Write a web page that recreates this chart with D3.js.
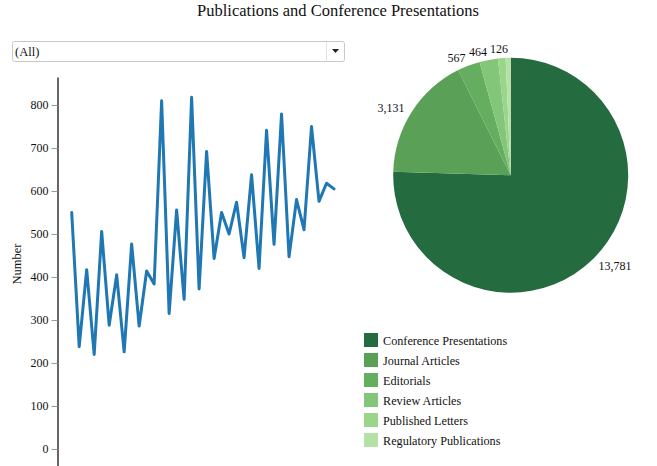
<!DOCTYPE html>
<html><head><meta charset="utf-8">
<script src="https://cdn.jsdelivr.net/npm/d3@7/dist/d3.min.js"></script>
<style>
body{margin:0;background:#fff}
svg{display:block}
text{font-family:"Liberation Serif","Times New Roman",serif;fill:#111}
</style>
</head><body>
<svg id="chart" width="657" height="466"></svg>
<script>
// ---- data ----
const titleText = "Publications and Conference Presentations";
const filterLabel = "(All)";
const yLabel = "Number";
const counts = [550,238,417,220,506,288,405,226,477,286,414,384,810,315,556,348,818,372,
                692,443,550,500,574,445,638,420,741,476,779,447,580,510,750,576,618,605];
const yTicks = [0,100,200,300,400,500,600,700,800];
const categories = ["Conference Presentations","Journal Articles","Editorials","Review Articles","Published Letters","Regulatory Publications"];
const totals = [13781,3131,567,464,190,126];
const colors = ["#246b3f","#5aa056","#65ad5f","#84c679","#99d58b","#b5e1a6"];

const svg = d3.select("#chart");

// title
svg.append("text").attr("x",338).attr("y",16).attr("text-anchor","middle")
  .style("font-size","16.5px").text(titleText);

// dropdown
const dd = svg.append("g");
dd.append("rect").attr("x",12.5).attr("y",41.5).attr("width",332).attr("height",20)
  .attr("rx",2).attr("fill","#fff").attr("stroke","#c8c8c8");
dd.append("line").attr("x1",326.5).attr("x2",326.5).attr("y1",42).attr("y2",61).attr("stroke","#e2e2e2");
dd.append("path").attr("d","M332,49 L339,49 L335.5,53 Z").attr("fill","#222");
dd.append("text").attr("x",15).attr("y",55.5).style("font-size","12.5px").text(filterLabel);

// line chart
const x = d3.scaleLinear().domain([0,counts.length-1]).range([71.7,334]);
const y = d3.scaleLinear().domain([-45,865]).range([468.35,77.05]);

const yAxis = d3.axisLeft(y).tickValues(yTicks).tickSize(6).tickPadding(3).tickSizeOuter(0);
const ga = svg.append("g").attr("transform","translate(57.5,0)").call(yAxis);
ga.select(".domain").attr("stroke","#000").attr("stroke-width",1.2);
ga.selectAll(".tick line").attr("stroke","#999");
ga.selectAll(".tick text").style("font-family","'Liberation Serif',serif").style("font-size","12px").attr("fill","#111");

svg.append("text").attr("transform","translate(21,264) rotate(-90)").attr("text-anchor","middle")
  .style("font-size","12.5px").text(yLabel);

const line = d3.line().x((d,i)=>x(i)).y(d=>y(d));
svg.append("path").datum(counts).attr("d",line).attr("fill","none")
  .attr("stroke","#1f77b4").attr("stroke-width",3).attr("stroke-linejoin","round").attr("stroke-linecap","round");

// pie
const cx = 510.7, cy = 175.2, r = 117.5;
const pie = d3.pie().sort(null).value(d=>d)(totals);
const arc = d3.arc().innerRadius(0).outerRadius(r);
const labelArc = d3.arc().innerRadius(126).outerRadius(126);
const gp = svg.append("g").attr("transform",`translate(${cx},${cy})`);
gp.selectAll("path.slice").data(pie).join("path").attr("class","slice")
  .attr("d",arc).attr("fill",(d,i)=>colors[i]);

const fmt = d3.format(",");
const shown = [];
gp.selectAll("text.lbl").data(pie).join("text").attr("class","lbl")
  .attr("x",d=>labelArc.centroid(d)[0]).attr("y",d=>labelArc.centroid(d)[1])
  .attr("dy","0.35em")
  .attr("text-anchor",d=>((d.startAngle+d.endAngle)/2 > Math.PI ? "end" : "start"))
  .style("font-size","12px")
  .text(d=>fmt(d.data))
  .each(function(){
    const b = this.getBBox();
    const hit = shown.some(s=>!(b.x>=s.x+s.width||b.x+b.width<=s.x||b.y>=s.y+s.height||b.y+b.height<=s.y));
    if(hit) d3.select(this).remove(); else shown.push(b);
  });

// legend
const lg = svg.append("g").attr("transform","translate(364,333)");
const item = lg.selectAll("g").data(categories).join("g").attr("transform",(d,i)=>`translate(0,${i*20})`);
item.append("rect").attr("width",14).attr("height",14).attr("fill",(d,i)=>colors[i]);
item.append("text").attr("x",19).attr("y",11.5).style("font-size","12.2px").text(d=>d);
</script>
</body></html>
